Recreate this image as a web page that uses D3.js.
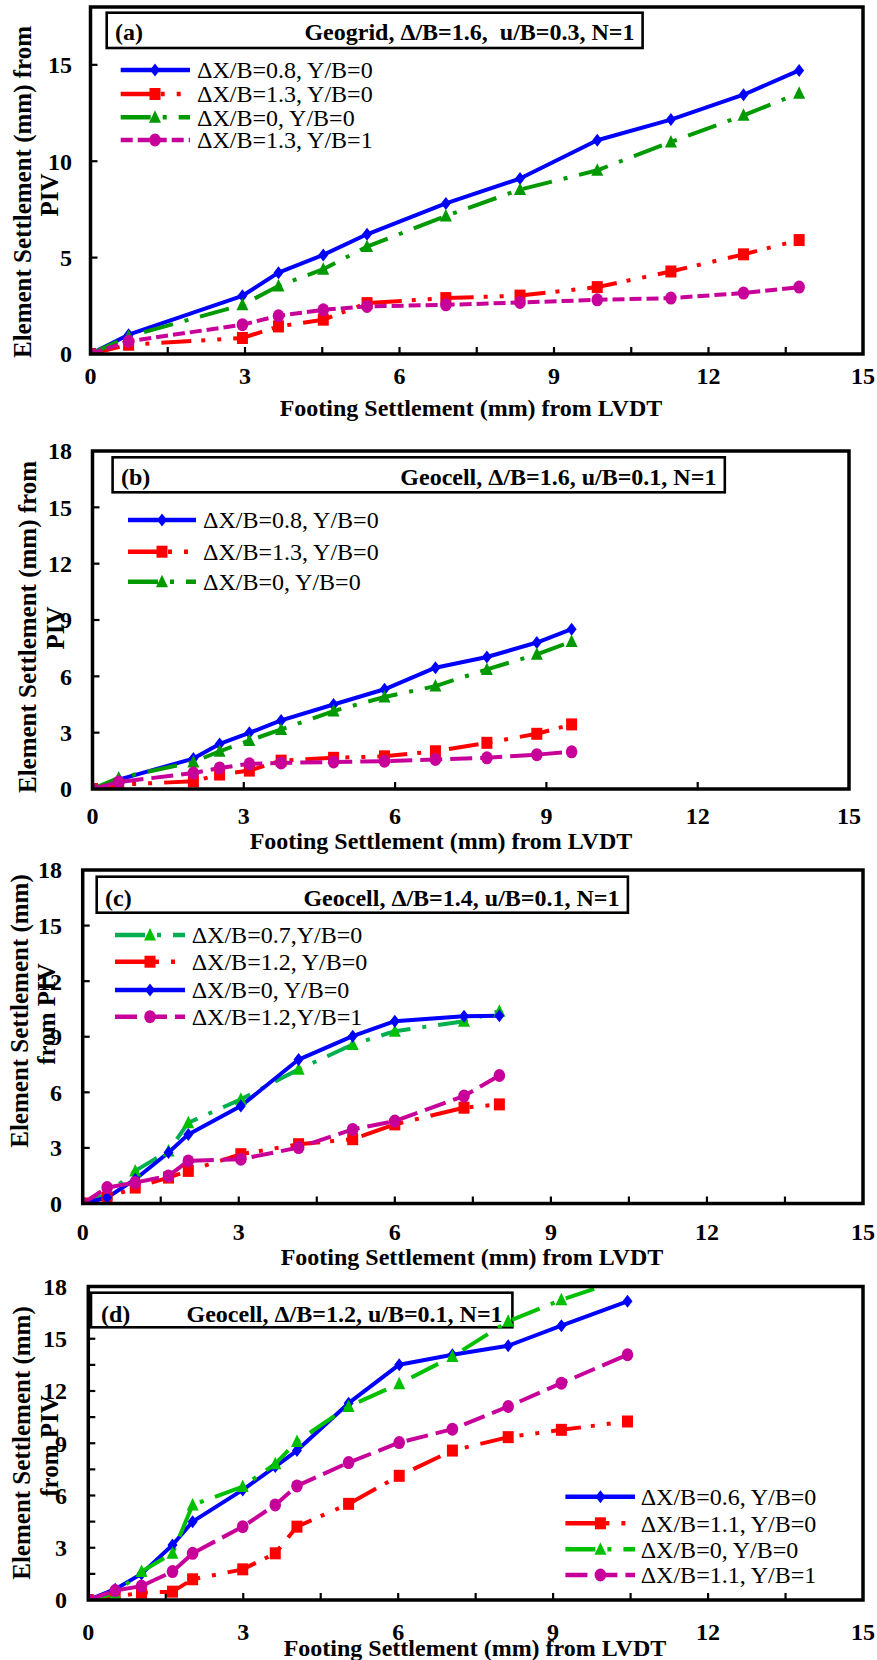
<!DOCTYPE html>
<html><head><meta charset="utf-8">
<script src="https://cdn.jsdelivr.net/npm/d3@7"></script>
<style>
body{margin:0;background:#fff}
svg{display:block}
text{font-family:'Liberation Serif','Times New Roman',serif;white-space:pre}
</style>
</head><body>
<svg id="chart" width="877" height="1660"></svg>
<script>
// ---------------- DATA ----------------
const xTickValues = [0, 3, 6, 9, 12, 15];
const yTicksA = [0, 5, 10, 15];
const yTicksOther = [0, 3, 6, 9, 12, 15, 18];
const xTitle = "Footing Settlement (mm) from LVDT";

// Panel (a) Geogrid
const titleA = "Geogrid, \u0394/B=1.6,  u/B=0.3, N=1";
const xA = [0, 0.74, 2.95, 3.65, 4.52, 5.37, 6.90, 8.34, 9.84, 11.27, 12.68, 13.76];
const aX08 = [0, 1.00, 3.02, 4.22, 5.14, 6.21, 7.81, 9.10, 11.09, 12.16, 13.45, 14.71];
const aX13 = [0, 0.48, 0.83, 1.43, 1.78, 2.64, 2.90, 3.03, 3.47, 4.28, 5.17, 5.91];
const aX0  = [0, 0.91, 2.55, 3.53, 4.40, 5.57, 7.16, 8.53, 9.53, 11.00, 12.38, 13.53];
const aX13Y1 = [0, 0.66, 1.52, 1.98, 2.29, 2.47, 2.55, 2.67, 2.81, 2.90, 3.16, 3.47];
const legendA = ["\u0394X/B=0.8, Y/B=0", "\u0394X/B=1.3, Y/B=0", "\u0394X/B=0, Y/B=0", "\u0394X/B=1.3, Y/B=1"];

// Panel (b) Geocell
const titleB = "Geocell, \u0394/B=1.6, u/B=0.1, N=1";
const xB = [0, 0.52, 2.00, 2.52, 3.11, 3.74, 4.78, 5.79, 6.80, 7.82, 8.81, 9.50];
const bX08 = [0, 0.50, 1.62, 2.40, 2.99, 3.65, 4.50, 5.31, 6.46, 7.03, 7.80, 8.51];
const bX13 = [0, 0.23, 0.41, 0.77, 0.98, 1.51, 1.66, 1.74, 2.01, 2.46, 2.94, 3.44];
const bX0  = [0, 0.59, 1.44, 2.01, 2.58, 3.17, 4.15, 4.90, 5.48, 6.37, 7.17, 7.85];
const bX13Y1 = [0, 0.37, 0.85, 1.12, 1.34, 1.39, 1.44, 1.48, 1.57, 1.66, 1.83, 1.98];
const legendB = ["\u0394X/B=0.8, Y/B=0", "\u0394X/B=1.3, Y/B=0", "\u0394X/B=0, Y/B=0"];

// Panel (c) Geocell
const titleC = "Geocell, \u0394/B=1.4, u/B=0.1, N=1";
const xC = [0, 0.47, 1.01, 1.65, 2.03, 3.04, 4.15, 5.19, 6.00, 7.33, 8.01];
const cX07 = [0, 0.50, 1.76, 2.84, 4.36, 5.62, 7.24, 8.58, 9.30, 9.84, 10.38];
const cX12 = [0, 0.32, 0.86, 1.40, 1.76, 2.66, 3.20, 3.47, 4.27, 5.17, 5.35];
const cX0  = [0, 0.32, 1.31, 2.75, 3.73, 5.26, 7.77, 9.03, 9.84, 10.11, 10.14];
const cX12Y1 = [0, 0.86, 1.13, 1.49, 2.30, 2.39, 3.02, 4.00, 4.45, 5.80, 6.91];
const legendC = ["\u0394X/B=0.7,Y/B=0", "\u0394X/B=1.2, Y/B=0", "\u0394X/B=0, Y/B=0", "\u0394X/B=1.2,Y/B=1"];

// Panel (d) Geocell
const titleD = "Geocell, \u0394/B=1.2, u/B=0.1, N=1";
const xD = [0, 0.52, 1.03, 1.63, 2.02, 2.99, 3.62, 4.04, 5.04, 6.02, 7.05, 8.13, 9.16, 10.44];
const dX06 = [0, 0.62, 1.50, 3.16, 4.50, 6.32, 7.66, 8.58, 11.30, 13.51, 14.08, 14.60, 15.75, 17.15];
const dX11 = [0, 0.19, 0.42, 0.48, 1.19, 1.76, 2.68, 4.21, 5.52, 7.13, 8.58, 9.35, 9.77, 10.25];
const dX0  = [0, 0.38, 1.63, 2.68, 5.46, 6.51, 7.82, 9.10, 11.11, 12.41, 13.98, 16.00, 17.24, 18.50];
const dX11Y1 = [0, 0.54, 0.80, 1.63, 2.68, 4.21, 5.46, 6.55, 7.89, 9.04, 9.81, 11.11, 12.45, 14.08];
const legendD = ["\u0394X/B=0.6, Y/B=0", "\u0394X/B=1.1, Y/B=0", "\u0394X/B=0, Y/B=0", "\u0394X/B=1.1, Y/B=1"];

// ---------------- STYLES ----------------
const BLUE = "#0000ff", RED = "#ff0000", MAG = "#c8009a";
const GREEN_D = "#009a00", GREEN_L = "#00c000";
const DASH_RED = "30,10,4,12,4,12";
const DASH_GREEN = "30,12,4,12";
const DASH_MAG_S = "12,5";
const DASH_MAG_L = "22,8";
const SERIF = "'Liberation Serif','Times New Roman',serif";

const panels = [
  {
    clip: "ca", left: 90.5, right: 863, top: 7, bottom: 354, yTicks: yTicksA, xMinor: true, yMinor: false,
    yLabRight: 72, xLabY: 376, xTitleY: 408, xTitleX: 471,
    yTitle: [["Element Settlement (mm) from", 22, 192], ["PIV", 49, 195]],
    box: [106.7, 12.7, 642.6, 48], tag: "(a)", tagX: 115, title: titleA, titleRight: 634.5, titleY: 31.5,
    leg: {x0: 120.7, x1: 190, mx: 155, tx: 197, ys: [70, 94, 117.3, 140], labels: legendA},
    xs: xA,
    series: [
      {y: aX08, color: BLUE, mcolor: BLUE, dash: null, m: "diamond", li: 0},
      {y: aX13, color: RED, mcolor: RED, dash: DASH_RED, m: "square", li: 1},
      {y: aX0, color: GREEN_D, mcolor: GREEN_D, dash: DASH_GREEN, m: "triangle", li: 2},
      {y: aX13Y1, color: MAG, mcolor: MAG, dash: DASH_MAG_S, m: "circle", li: 3}
    ]
  },
  {
    clip: "cb", left: 92.5, right: 849, top: 451, bottom: 789, yTicks: yTicksOther, xMinor: false, yMinor: false,
    yLabRight: 72, xLabY: 816, xTitleY: 841, xTitleX: 441,
    yTitle: [["Element Settlement (mm) from", 27, 627], ["PIV", 55, 628]],
    box: [112.6, 457.3, 724.8, 492.3], tag: "(b)", tagX: 121, title: titleB, titleRight: 716.4, titleY: 476.7,
    leg: {x0: 128, x1: 196, mx: 162, tx: 203, ys: [520, 551.7, 581.7], labels: legendB},
    xs: xB,
    series: [
      {y: bX08, color: BLUE, mcolor: BLUE, dash: null, m: "diamond", li: 0},
      {y: bX13, color: RED, mcolor: RED, dash: DASH_RED, m: "square", li: 1},
      {y: bX0, color: GREEN_D, mcolor: GREEN_D, dash: DASH_GREEN, m: "triangle", li: 2},
      {y: bX13Y1, color: MAG, mcolor: MAG, dash: DASH_MAG_L, m: "circle", li: -1}
    ]
  },
  {
    clip: "cc", left: 82.7, right: 863, top: 870, bottom: 1203.5, yTicks: yTicksOther, xMinor: true, yMinor: false,
    yLabRight: 62, xLabY: 1232, xTitleY: 1257, xTitleX: 472,
    yTitle: [["Element Settlement (mm)", 19.6, 1011], ["from PIV", 46.5, 1014]],
    box: [96.7, 876.7, 627.9, 912.7], tag: "(c)", tagX: 105, title: titleC, titleRight: 619.5, titleY: 898,
    leg: {x0: 115, x1: 185, mx: 150, tx: 191.7, ys: [935, 961.7, 990, 1016.7], labels: legendC},
    xs: xC,
    series: [
      {y: cX07, color: "#00b050", mcolor: GREEN_L, dash: DASH_GREEN, m: "triangle", li: 0},
      {y: cX12, color: RED, mcolor: RED, dash: DASH_RED, m: "square", li: 1},
      {y: cX0, color: BLUE, mcolor: BLUE, dash: null, m: "diamond", li: 2},
      {y: cX12Y1, color: MAG, mcolor: MAG, dash: DASH_MAG_L, m: "circle", li: 3}
    ]
  },
  {
    clip: "cd", left: 88.3, right: 863, top: 1286.5, bottom: 1600, yTicks: yTicksOther, xMinor: true, yMinor: true,
    yLabRight: 67, xLabY: 1632, xTitleY: 1648, xTitleX: 475,
    yTitle: [["Element Settlement (mm)", 21.3, 1443], ["from PIV", 49.5, 1446]],
    box: [91, 1292.7, 512.4, 1327.3], tag: "(d)", tagX: 101, title: titleD, titleRight: 502.6, titleY: 1313.3,
    leg: {x0: 565.4, x1: 635, mx: 600.4, tx: 640.7, ys: [1496.7, 1523.3, 1549.3, 1575], labels: legendD},
    xs: xD,
    series: [
      {y: dX06, color: BLUE, mcolor: BLUE, dash: null, m: "diamond", li: 0},
      {y: dX11, color: RED, mcolor: RED, dash: DASH_RED, m: "square", li: 1},
      {y: dX0, color: GREEN_L, mcolor: GREEN_L, dash: DASH_GREEN, m: "triangle", li: 2},
      {y: dX11Y1, color: MAG, mcolor: MAG, dash: DASH_MAG_L, m: "circle", li: 3}
    ]
  }
];

// ---------------- DRAW ----------------
const svg = d3.select("#chart");
const defs = svg.append("defs");

function drawMarker(g, type, x, y, color) {
  if (type === "diamond") {
    g.append("path").attr("d", `M${x},${y - 6.5}L${x + 5},${y}L${x},${y + 6.5}L${x - 5},${y}Z`).attr("fill", color);
  } else if (type === "square") {
    g.append("rect").attr("x", x - 5.5).attr("y", y - 6).attr("width", 11).attr("height", 12).attr("fill", color);
  } else if (type === "triangle") {
    g.append("path").attr("d", `M${x},${y - 7}L${x + 6},${y + 5.5}L${x - 6},${y + 5.5}Z`).attr("fill", color);
  } else {
    g.append("ellipse").attr("cx", x).attr("cy", y).attr("rx", 5.8).attr("ry", 6.5).attr("fill", color);
  }
}

panels.forEach(p => {
  const x = d3.scaleLinear().domain([0, 15]).range([p.left, p.right]);
  const y = d3.scaleLinear().domain([0, 18]).range([p.bottom, p.top]);
  const g = svg.append("g");

  defs.append("clipPath").attr("id", p.clip).append("rect")
    .attr("x", p.left).attr("y", p.top).attr("width", p.right - p.left).attr("height", p.bottom - p.top);

  // ticks (inward)
  const xt = p.xMinor ? d3.range(0, 15.01, 1.5) : xTickValues;
  xt.forEach(v => {
    if (v === 0 || v === 15) return;
    g.append("line").attr("x1", x(v)).attr("x2", x(v)).attr("y1", p.bottom).attr("y2", p.bottom - 7)
      .attr("stroke", "#000").attr("stroke-width", 2.2);
  });
  const ytv = p.yMinor ? d3.range(0, 18.01, 1.5) : p.yTicks;
  ytv.forEach(v => {
    if (v === 0 || v === 18) return;
    g.append("line").attr("x1", p.left).attr("x2", p.left + 7).attr("y1", y(v)).attr("y2", y(v))
      .attr("stroke", "#000").attr("stroke-width", 2.2);
  });

  // tick labels
  xTickValues.forEach(v => {
    g.append("text").attr("x", x(v)).attr("y", p.xLabY).attr("dy", "0.35em").attr("text-anchor", "middle")
      .attr("font-family", SERIF).attr("font-size", 24).attr("font-weight", "bold").text(v);
  });
  p.yTicks.forEach(v => {
    g.append("text").attr("x", p.yLabRight).attr("y", y(v)).attr("dy", "0.35em").attr("text-anchor", "end")
      .attr("font-family", SERIF).attr("font-size", 24).attr("font-weight", "bold").text(v);
  });

  // axis titles
  g.append("text").attr("x", p.xTitleX).attr("y", p.xTitleY).attr("dy", "0.35em").attr("text-anchor", "middle")
    .attr("font-family", SERIF).attr("font-size", 24).attr("font-weight", "bold").text(xTitle);
  p.yTitle.forEach(([t, cx, cy]) => {
    g.append("text").attr("transform", `translate(${cx},${cy}) rotate(-90)`).attr("dy", "0.35em")
      .attr("text-anchor", "middle").attr("font-family", SERIF).attr("font-size", 25).attr("font-weight", "bold").text(t);
  });

  // title box
  const [bx0, by0, bx1, by1] = p.box;
  g.append("rect").attr("x", bx0).attr("y", by0).attr("width", bx1 - bx0).attr("height", by1 - by0)
    .attr("fill", "#fff").attr("stroke", "#000").attr("stroke-width", 2.6);
  g.append("text").attr("x", p.tagX).attr("y", p.titleY).attr("dy", "0.35em")
    .attr("font-family", SERIF).attr("font-size", 24).attr("font-weight", "bold").text(p.tag);
  g.append("text").attr("x", p.titleRight).attr("y", p.titleY).attr("dy", "0.35em").attr("text-anchor", "end")
    .attr("font-family", SERIF).attr("font-size", 24).attr("font-weight", "bold").text(p.title);

  // series
  const plot = g.append("g").attr("clip-path", `url(#${p.clip})`);
  const line = d3.line().x((d, i) => x(p.xs[i])).y(d => y(d));
  p.series.forEach(s => {
    plot.append("path").attr("d", line(s.y)).attr("fill", "none").attr("stroke", s.color)
      .attr("stroke-width", 4).attr("stroke-dasharray", s.dash).attr("stroke-linejoin", "round");
  });
  p.series.forEach(s => {
    s.y.forEach((v, i) => drawMarker(plot, s.m, x(p.xs[i]), y(v), s.mcolor));
  });

  // legend
  p.series.forEach(s => {
    if (s.li < 0) return;
    const ly = p.leg.ys[s.li];
    g.append("line").attr("x1", p.leg.x0).attr("x2", p.leg.x1).attr("y1", ly).attr("y2", ly)
      .attr("stroke", s.color).attr("stroke-width", 4.5).attr("stroke-dasharray", s.dash);
    drawMarker(g, s.m, p.leg.mx, ly, s.mcolor);
    g.append("text").attr("x", p.leg.tx).attr("y", ly).attr("dy", "0.35em")
      .attr("font-family", SERIF).attr("font-size", 24).text(p.leg.labels[s.li]);
  });

  // frame
  g.append("rect").attr("x", p.left).attr("y", p.top).attr("width", p.right - p.left).attr("height", p.bottom - p.top)
    .attr("fill", "none").attr("stroke", "#000").attr("stroke-width", 3.5);
});
</script>
</body></html>
